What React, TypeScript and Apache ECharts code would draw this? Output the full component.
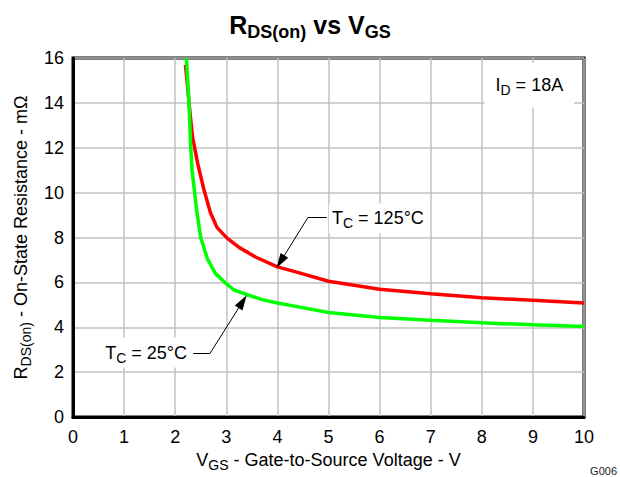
import React, { useEffect, useRef } from "react";
import * as echarts from "echarts";

// Gate-to-source voltage (V) and on-state resistance (mOhm), Tc = 25 °C
const vgs25 = [2.22, 2.25, 2.27, 2.30, 2.33, 2.38, 2.42, 2.50, 2.63, 2.79, 2.99, 3.15, 3.41, 3.70, 4.0, 4.36, 5.0, 6.0, 7.0, 8.0, 9.0, 10.0];
const rds25 = [16.0, 14.8, 14.0, 12.2, 11.0, 10.0, 9.2, 8.0, 7.05, 6.39, 5.96, 5.66, 5.45, 5.23, 5.08, 4.93, 4.66, 4.43, 4.31, 4.2, 4.11, 4.03];

// Tc = 125 °C
const vgs125 = [2.20, 2.24, 2.27, 2.34, 2.44, 2.56, 2.69, 2.82, 3.02, 3.25, 3.58, 4.0, 4.36, 5.0, 6.0, 7.0, 8.0, 9.0, 10.0];
const rds125 = [15.7, 14.8, 14.0, 12.46, 11.3, 10.15, 9.1, 8.44, 7.96, 7.56, 7.12, 6.69, 6.47, 6.05, 5.69, 5.49, 5.31, 5.2, 5.08];

const xMin = 0, xMax = 10, xStep = 1;
const yMin = 0, yMax = 16, yStep = 2;

// annotation anchors (data coordinates)
const label125 = [5.0, 8.85];
const leader125 = [[4.6, 8.9], [4.97, 8.9], [4.06, 6.92]];
const label25 = [2.3, 2.87];
const leader25 = [[2.68, 2.83], [2.35, 2.83], [3.32, 5.14]];
const labelId = [8.93, 14.78];

const FONT = "'Liberation Sans', Arial, Helvetica, sans-serif";

const subRich = {
  n: { fontSize: 18, lineHeight: 24, color: "#000", fontFamily: FONT },
  s: { fontSize: 14, lineHeight: 15, verticalAlign: "bottom", color: "#000", fontFamily: FONT },
};

export default function App() {
  const ref = useRef<HTMLDivElement>(null);
  useEffect(() => {
    const chart = echarts.init(ref.current!, null, { renderer: "svg" });
    const pts = (xs: number[], ys: number[]) => xs.map((x, i) => [x, ys[i]]);
    const annLabel = (position: string, text: string, padding: number[]) => ({
      show: true,
      position,
      distance: 0,
      formatter: text,
      backgroundColor: "#fff",
      padding,
      rich: subRich,
    });
    chart.setOption({
      animation: false,
      backgroundColor: "#fff",
      title: {
        text: "{b|R}{bs|DS(on)}{b| vs V}{bs|GS}",
        left: "center",
        top: 4,
        textStyle: {
          rich: {
            b: { fontSize: 25, fontWeight: "bold", lineHeight: 32, color: "#000", fontFamily: FONT },
            bs: { fontSize: 18, fontWeight: "bold", lineHeight: 19, verticalAlign: "bottom", color: "#000", fontFamily: FONT },
          },
        },
      },
      grid: {
        left: 73,
        right: 36,
        top: 58,
        bottom: 55,
        show: true,
        borderColor: "#000",
        borderWidth: 3,
        backgroundColor: "transparent",
      },
      xAxis: {
        type: "value",
        min: xMin,
        max: xMax,
        interval: xStep,
        axisLine: { show: true, lineStyle: { color: "#000", width: 3 } },
        axisTick: { show: false },
        axisLabel: { fontSize: 18, color: "#000", fontFamily: FONT, margin: 11 },
        splitLine: { show: true, lineStyle: { color: "#c0c0c0", width: 1.5 } },
        name: "{n|V}{s|GS}{n| - Gate-to-Source Voltage - V}",
        nameLocation: "middle",
        nameGap: 31,
        nameTextStyle: { rich: subRich },
      },
      yAxis: {
        type: "value",
        min: yMin,
        max: yMax,
        interval: yStep,
        axisLine: { show: true, lineStyle: { color: "#000", width: 3 } },
        axisTick: { show: false },
        axisLabel: { fontSize: 18, color: "#000", fontFamily: FONT, margin: 9 },
        splitLine: { show: true, lineStyle: { color: "#c0c0c0", width: 1.5 } },
        name: "{n|R}{s|DS(on)}{n| - On-State Resistance - mΩ}",
        nameLocation: "middle",
        nameGap: 35,
        nameRotate: 90,
        nameTextStyle: { rich: subRich },
      },
      graphic: [
        {
          type: "text",
          right: 3,
          bottom: 1,
          style: { text: "G006", fontSize: 11, fill: "#222", fontFamily: FONT },
        },
      ],
      series: [
        {
          type: "line",
          name: "Tc = 125°C",
          data: pts(vgs125, rds125),
          showSymbol: false,
          symbol: "none",
          lineStyle: { color: "#ff0000", width: 3.5 },
          itemStyle: { color: "#ff0000" },
          z: 3,
          markLine: {
            silent: true,
            animation: false,
            symbol: ["none", "triangle"],
            symbolSize: [9, 15],
            label: { show: false },
            lineStyle: { color: "#000", width: 1, type: "solid" },
            itemStyle: { color: "#000" },
            data: [
              [
                { coord: leader125[0], symbol: "none" },
                { coord: leader125[1], symbol: "none" },
              ],
              [{ coord: leader125[0], symbol: "none" }, { coord: leader125[2] }],
            ],
          },
          markPoint: {
            silent: true,
            animation: false,
            symbol: "circle",
            symbolSize: 1,
            itemStyle: { color: "rgba(0,0,0,0)" },
            data: [
              { coord: label125, label: annLabel("right", "{n|T}{s|C}{n| = 125°C}", [3, 3, 3, 3]) },
              { coord: labelId, label: annLabel("inside", "{n|I}{s|D}{n| = 18A}", [10, 11, 11, 11]) },
            ],
          },
        },
        {
          type: "line",
          name: "Tc = 25°C",
          data: pts(vgs25, rds25),
          showSymbol: false,
          symbol: "none",
          lineStyle: { color: "#00ff00", width: 3.5 },
          itemStyle: { color: "#00ff00" },
          z: 3,
          markLine: {
            silent: true,
            animation: false,
            symbol: ["none", "triangle"],
            symbolSize: [9, 15],
            label: { show: false },
            lineStyle: { color: "#000", width: 1, type: "solid" },
            itemStyle: { color: "#000" },
            data: [
              [
                { coord: leader25[0], symbol: "none" },
                { coord: leader25[1], symbol: "none" },
              ],
              [{ coord: leader25[0], symbol: "none" }, { coord: leader25[2] }],
            ],
          },
          markPoint: {
            silent: true,
            animation: false,
            symbol: "circle",
            symbolSize: 1,
            itemStyle: { color: "rgba(0,0,0,0)" },
            data: [{ coord: label25, label: annLabel("left", "{n|T}{s|C}{n| = 25°C}", [3, 3, 3, 3]) }],
          },
        },
      ],
    });
    return () => chart.dispose();
  }, []);
  return <div ref={ref} style={{ position: "absolute", left: 0, top: 0, width: 620, height: 477 }} />;
}
